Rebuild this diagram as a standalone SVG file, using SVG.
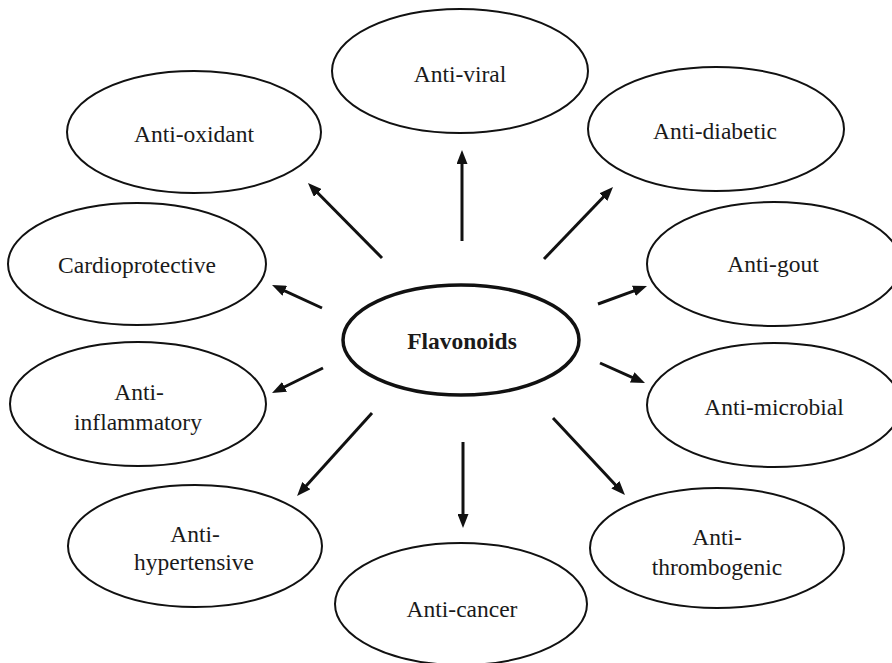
<svg xmlns="http://www.w3.org/2000/svg" width="892" height="663" viewBox="0 0 892 663" font-family="'Liberation Serif', 'Times New Roman', Times, 'DejaVu Serif', serif">
<style>
  .node ellipse { fill: #ffffff; stroke: #111; stroke-width: 2; }
  .center ellipse { stroke-width: 3.5; }
  text { font-family: 'Liberation Serif', 'Times New Roman', Times, 'DejaVu Serif', serif; font-size: 23.5px; fill: #1a1a1a; text-anchor: middle; }
  .bold { font-weight: bold; }
  .conn line { stroke: #111; stroke-width: 3; marker-end: url(#ah); }
</style>
<defs>
  <marker id="ah" markerUnits="userSpaceOnUse" markerWidth="14" markerHeight="11" refX="6" refY="5.5" orient="auto">
    <path d="M0,0 L14,5.5 L0,11 z" fill="#111"/>
  </marker>
</defs>
<rect width="892" height="663" fill="#ffffff"/>

<g id="anti-viral" class="node">
  <ellipse cx="460" cy="71" rx="128" ry="62"/>
  <text x="460" y="82">Anti-viral</text>
</g>
<g id="anti-oxidant" class="node">
  <ellipse cx="194" cy="132" rx="127" ry="61"/>
  <text x="194" y="142">Anti-oxidant</text>
</g>
<g id="anti-diabetic" class="node">
  <ellipse cx="716" cy="129" rx="128" ry="62"/>
  <text x="715" y="139">Anti-diabetic</text>
</g>
<g id="cardioprotective" class="node">
  <ellipse cx="137" cy="264" rx="129" ry="61"/>
  <text x="137" y="273">Cardioprotective</text>
</g>
<g id="anti-gout" class="node">
  <ellipse cx="774" cy="264" rx="127" ry="62"/>
  <text x="773" y="272">Anti-gout</text>
</g>
<g id="flavonoids" class="node center">
  <ellipse cx="461" cy="340" rx="118" ry="55"/>
  <text class="bold" x="462" y="349">Flavonoids</text>
</g>
<g id="anti-inflammatory" class="node">
  <ellipse cx="138" cy="404" rx="128" ry="62"/>
  <text x="139" y="400">Anti-</text>
  <text x="138" y="430">inflammatory</text>
</g>
<g id="anti-microbial" class="node">
  <ellipse cx="774" cy="405" rx="127" ry="62"/>
  <text x="774" y="415">Anti-microbial</text>
</g>
<g id="anti-hypertensive" class="node">
  <ellipse cx="195" cy="546" rx="127" ry="61"/>
  <text x="195" y="542">Anti-</text>
  <text x="194" y="570">hypertensive</text>
</g>
<g id="anti-thrombogenic" class="node">
  <ellipse cx="717" cy="548" rx="127" ry="60"/>
  <text x="717" y="545">Anti-</text>
  <text x="717" y="575">thrombogenic</text>
</g>
<g id="anti-cancer" class="node">
  <ellipse cx="461" cy="604" rx="126" ry="61"/>
  <text x="462" y="617">Anti-cancer</text>
</g>

<g id="connectors" class="conn">
  <line x1="462" y1="241" x2="462" y2="158"/>
  <line x1="382" y1="258" x2="313.6" y2="188.7"/>
  <line x1="544" y1="259" x2="607.5" y2="192.8"/>
  <line x1="322" y1="308" x2="279.3" y2="288.3"/>
  <line x1="598" y1="304" x2="639.5" y2="288.8"/>
  <line x1="323" y1="368" x2="279.2" y2="389.5"/>
  <line x1="600" y1="363" x2="637.7" y2="379.8"/>
  <line x1="372" y1="413" x2="302.4" y2="490.1"/>
  <line x1="463" y1="442" x2="463" y2="520"/>
  <line x1="553" y1="418" x2="619.5" y2="489.2"/>
</g>
</svg>
